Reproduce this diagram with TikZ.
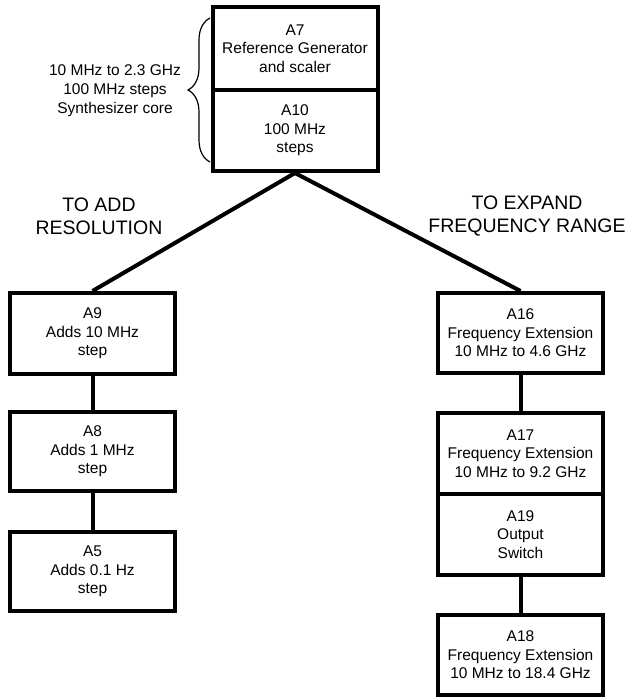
\documentclass[tikz,border=0pt]{standalone}
\usepackage{fontspec}
\setmainfont{Liberation Sans}
\usetikzlibrary{decorations.pathreplacing}
\begin{document}
\begin{tikzpicture}[x=1pt,y=-1pt,
  blk/.style={draw, line width=4pt, minimum width=165pt, minimum height=81pt, inner sep=0pt, align=center, font=\fontsize{15.5}{18.5}\selectfont},
  conn/.style={line width=4pt},
  ttl/.style={align=center, font=\fontsize{19.5}{23}\selectfont},
  lbl/.style={align=center, font=\fontsize{15.5}{19}\selectfont}]
\useasboundingbox (0,0) rectangle (630,698);
% top core
\node[blk, minimum height=83pt] (a7) at (295,48.5) {A7\\Reference Generator\\and scaler};
\node[blk] (a10) at (295,130.5) {A10\\100 MHz\\steps};
% brace and its label
\coordinate (bb) at (210,162);
\coordinate (bt) at (210,18);
\draw[line width=1.2pt, decorate, decoration={brace, amplitude=22pt}] (bb) -- (bt);
\node[lbl] (core) at (115,91) {10 MHz to 2.3 GHz\\100 MHz steps\\Synthesizer core};
% titles
\node[ttl] (tres) at (99,216) {TO ADD\\RESOLUTION};
\node[ttl] (texp) at (527,216) {TO EXPAND\\FREQUENCY RANGE};
% left column
\node[blk] (a9) at (92.5,333.5) {A9\\Adds 10 MHz\\step};
\node[blk, minimum height=79pt] (a8) at (92.5,451.5) {A8\\Adds 1 MHz\\step};
\node[blk, minimum height=79pt] (a5) at (92.5,571.5) {A5\\Adds 0.1 Hz\\step};
% right column
\node[blk, minimum height=80pt] (a16) at (520.5,333) {A16\\Frequency Extension\\10 MHz to 4.6 GHz};
\node[blk] (a17) at (520.5,453.5) {A17\\Frequency Extension\\10 MHz to 9.2 GHz};
\node[blk] (a19) at (520.5,534.5) {A19\\Output\\Switch};
\node[blk, minimum height=80pt] (a18) at (520.5,655) {A18\\Frequency Extension\\10 MHz to 18.4 GHz};
% connectors
\draw[conn] (a10.south) -- (a9.north);
\draw[conn] (a10.south) -- (a16.north);
\draw[conn] (a9) -- (a8);
\draw[conn] (a8) -- (a5);
\draw[conn] (a16) -- (a17);
\draw[conn] (a19) -- (a18);
\end{tikzpicture}
\end{document}
